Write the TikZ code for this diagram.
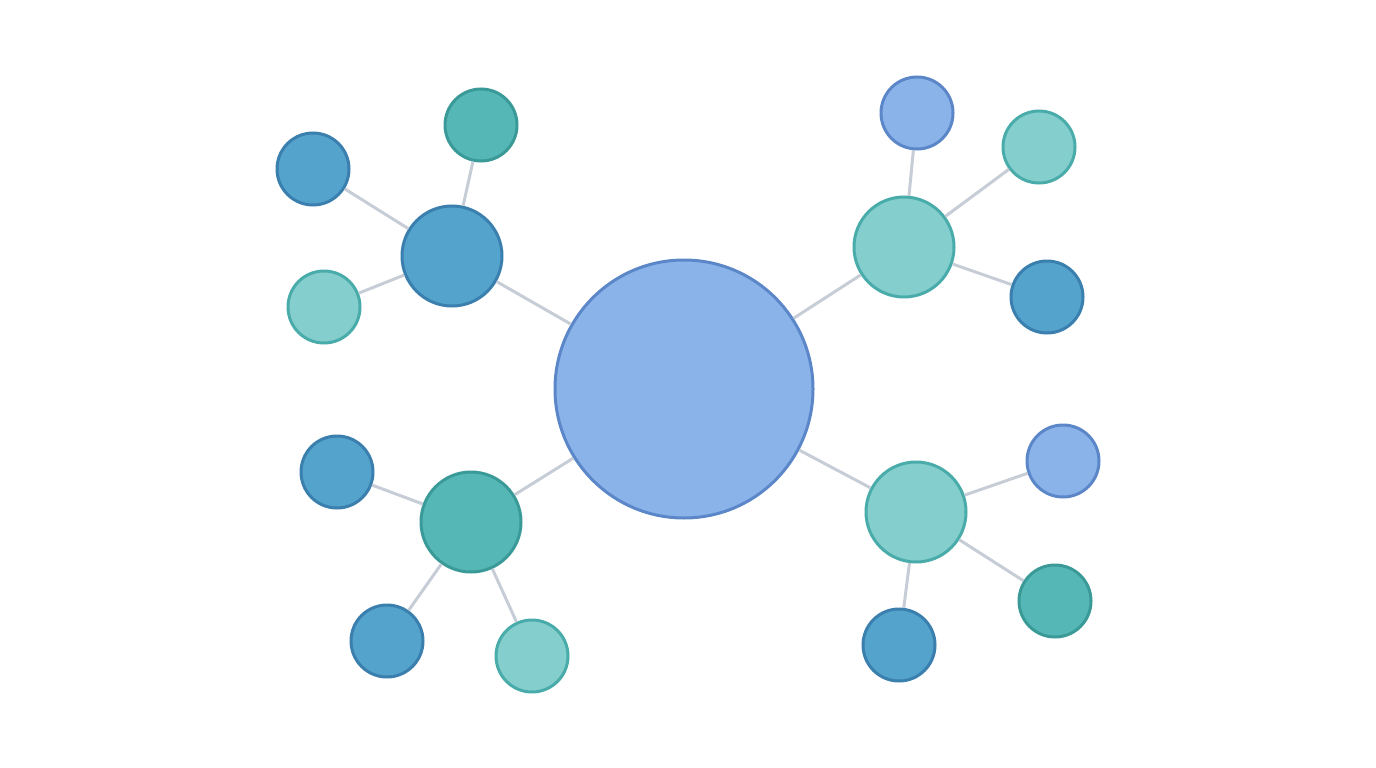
\documentclass[tikz,border=0pt]{standalone}
\usepackage{tikz}

\definecolor{dblue}{HTML}{53A3CC}
\definecolor{dblueb}{HTML}{3A7FAE}
\definecolor{teal1}{HTML}{56B8B6}
\definecolor{teal1b}{HTML}{3A9A98}
\definecolor{lteal}{HTML}{84CFCD}
\definecolor{ltealb}{HTML}{4AACAA}
\definecolor{lblue}{HTML}{8AB4E9}
\definecolor{lblueb}{HTML}{5B87C9}
\definecolor{edgegray}{HTML}{C7CDD6}

\begin{document}
\begin{tikzpicture}[x=1pt,y=-1pt,line width=3pt,
	ball/.style={circle,inner sep=0pt,minimum size=72pt},
	hub/.style={circle,inner sep=0pt,minimum size=100pt},
	db/.style={fill=dblue,draw=dblueb},
	tl/.style={fill=teal1,draw=teal1b},
	lt/.style={fill=lteal,draw=ltealb},
	lb/.style={fill=lblue,draw=lblueb},
	link/.style={draw=edgegray,line width=3pt}]
\useasboundingbox (0,0) rectangle (1376,768);

\node[circle,inner sep=0pt,minimum size=258pt,lb] (c) at (684,389) {};

% upper left
\node[hub,db] (ul) at (452,256) {};
\node[ball,db] (ul1) at (313,169) {};
\node[ball,tl] (ul2) at (481,125) {};
\node[ball,lt] (ul3) at (324,307) {};

% upper right
\node[hub,lt] (ur) at (904,247) {};
\node[ball,lb] (ur1) at (917,113) {};
\node[ball,lt] (ur2) at (1039,147) {};
\node[ball,db] (ur3) at (1047,297) {};

% lower left
\node[hub,tl] (ll) at (471,522) {};
\node[ball,db] (ll1) at (337,472) {};
\node[ball,db] (ll2) at (387,641) {};
\node[ball,lt] (ll3) at (532,656) {};

% lower right
\node[hub,lt] (lr) at (916,512) {};
\node[ball,lb] (lr1) at (1063,461) {};
\node[ball,tl] (lr2) at (1055,601) {};
\node[ball,db] (lr3) at (899,645) {};

\foreach \h in {ul,ur,ll,lr} {
	\draw[link] (c) -- (\h);
	\foreach \k in {1,2,3} {
		\draw[link] (\h) -- (\h\k);
	}
}
\end{tikzpicture}
\end{document}
